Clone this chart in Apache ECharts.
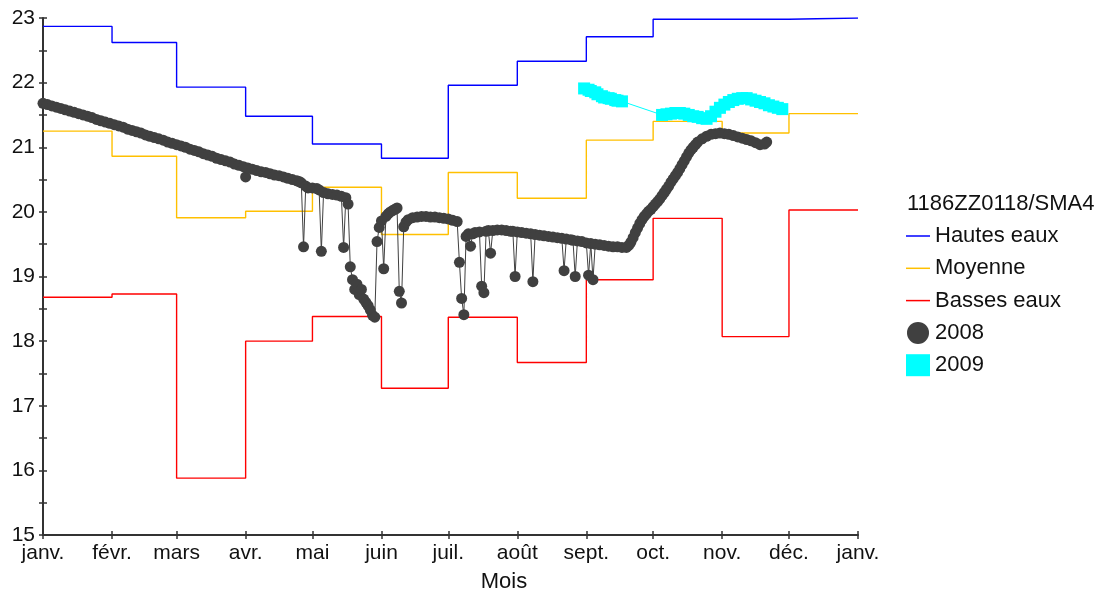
<!DOCTYPE html>
<html>
<head>
<meta charset="utf-8">
<script src="https://cdn.jsdelivr.net/npm/echarts@6/dist/echarts.min.js"></script>
<style>
html, body { margin: 0; padding: 0; background: #fff; }
#chart { width: 1106px; height: 596px; }
</style>
</head>
<body>
<div id="chart"></div>
<script>
// Day-of-year at which each month starts (2008 is a leap year), plus the closing 1 Jan.
const monthStarts = [0, 31, 60, 91, 121, 152, 182, 213, 244, 274, 305, 335, 366];
const monthLabels = ['janv.', 'févr.', 'mars', 'avr.', 'mai', 'juin', 'juil.', 'août', 'sept.', 'oct.', 'nov.', 'déc.', 'janv.'];
const yTicks = [15, 16, 17, 18, 19, 20, 21, 22, 23];

// Monthly reference levels (one value per month)
const hautesEaux = [22.87, 22.62, 21.93, 21.48, 21.05, 20.83, 21.96, 22.33, 22.71, 22.98, 22.98, 23.0];
const moyenne    = [21.25, 20.86, 19.91, 20.01, 20.38, 19.65, 20.61, 20.21, 21.11, 21.40, 21.22, 21.52];
const bassesEaux = [18.68, 18.73, 15.88, 18.00, 18.38, 17.27, 18.37, 17.67, 18.95, 19.90, 18.07, 20.03];

// 2008 measurements: day of year and level
const jours2008 = [0, 2, 4, 6, 8, 10, 12, 14, 16, 18, 20, 22, 24, 26, 28, 30, 32, 34, 36, 38, 40, 42, 44, 46, 48, 50, 52, 54, 56, 58, 60, 62, 64, 66, 68, 70, 72, 74, 76, 78, 80, 82, 84, 86, 88, 90, 91, 92, 94, 96, 98, 100, 102, 104, 106, 108, 110, 112, 114,
  115, 116, 117, 118, 119, 121, 123, 124, 125, 126, 128, 130, 132, 134, 135, 136, 137,
  138, 139, 140, 141, 142, 143, 144, 145, 146, 147, 148, 149,
  150, 151, 152, 153, 154, 155, 156, 157, 158, 159, 160, 161,
  162, 163, 164, 166, 168, 170, 172, 174, 176, 178, 180, 182, 184, 186, 187, 188, 189,
  190, 191, 192, 193, 194, 196, 197, 198, 199, 200, 201, 202, 204, 206, 208, 210, 211, 212, 213, 215, 217, 219, 220, 221, 223, 225, 227, 229, 231, 233, 234, 235, 237, 238, 239, 240, 242, 244, 245, 246, 247, 248, 250, 252, 254, 256, 258, 260, 262,
  263, 264, 265, 266, 267, 268, 269, 270, 271, 272, 273, 274, 275, 276, 277, 278, 279, 280, 281, 282, 283, 284, 285, 286, 287, 288, 289, 290, 291, 292, 293, 294,
  296, 298, 300, 302, 304, 306, 308, 310, 312, 314, 316, 318, 320, 322, 324, 325];
const niveau2008 = [21.68, 21.66, 21.64, 21.62, 21.60, 21.58, 21.56, 21.54, 21.52, 21.50, 21.48, 21.46, 21.43, 21.41, 21.39, 21.37, 21.35, 21.33, 21.31, 21.28,
  21.26, 21.24, 21.22, 21.19, 21.17, 21.15, 21.13, 21.11, 21.08, 21.06, 21.04, 21.02, 21.00, 20.97, 20.95, 20.93, 20.90, 20.88, 20.86, 20.83,
  20.81, 20.79, 20.77, 20.74, 20.72, 20.70, 20.54, 20.68, 20.66, 20.64, 20.62, 20.61, 20.59, 20.57, 20.56, 20.54, 20.52, 20.50, 20.48,
  20.47, 20.45, 19.46, 20.40, 20.37, 20.37, 20.36, 20.34, 19.39, 20.30, 20.28, 20.27, 20.26, 20.24, 19.45, 20.22, 20.12,
  19.15, 18.95, 18.80, 18.88, 18.72, 18.80, 18.65, 18.60, 18.55, 18.48, 18.40, 18.37,
  19.54, 19.76, 19.86, 19.12, 19.93, 19.97, 20.00, 20.02, 20.04, 20.06, 18.77, 18.59,
  19.77, 19.84, 19.88, 19.91, 19.92, 19.93, 19.93, 19.92, 19.92, 19.91, 19.90, 19.89, 19.87, 19.85, 19.22, 18.66, 18.41,
  19.62, 19.66, 19.47, 19.66, 19.68, 19.69, 18.85, 18.75, 19.70, 19.71, 19.36, 19.71, 19.72, 19.72, 19.71, 19.70, 19.70, 19.00, 19.69, 19.68, 19.67, 19.66, 18.92, 19.65, 19.64, 19.63, 19.62, 19.61, 19.60, 19.59, 19.09, 19.58, 19.57, 19.56, 19.00, 19.55, 19.54, 19.52, 19.02, 19.51, 18.95, 19.50, 19.49, 19.48, 19.47, 19.46, 19.46, 19.45, 19.45,
  19.48, 19.53, 19.60, 19.68, 19.75, 19.82, 19.88, 19.93, 19.97, 20.01, 20.04, 20.08, 20.12, 20.16, 20.20, 20.25, 20.30, 20.35, 20.40, 20.46,
  20.51, 20.56, 20.61, 20.67, 20.73, 20.79, 20.85, 20.91, 20.96, 21.00, 21.04, 21.08,
  21.13, 21.17, 21.20, 21.21, 21.22, 21.21, 21.20, 21.18, 21.16, 21.14, 21.12, 21.10, 21.07, 21.04, 21.05, 21.08];

// 2009 measurements: day of year and level
const jours2009 = [243, 245, 246, 248, 249, 251, 252, 254, 255, 257, 258, 260,
  278, 280, 282, 284, 286, 288, 290, 292, 294, 296, 298, 300, 302, 304, 306, 308, 310, 312, 314, 316, 318, 320, 322, 324, 326, 328, 330, 332];
const niveau2009 = [21.91, 21.89, 21.87, 21.85, 21.82, 21.79, 21.77, 21.76, 21.75, 21.73, 21.72, 21.71,
  21.50, 21.51, 21.52, 21.53, 21.53, 21.52, 21.50, 21.48, 21.47, 21.45, 21.44, 21.48, 21.55, 21.61, 21.66, 21.70, 21.73, 21.75, 21.76, 21.76, 21.74, 21.72, 21.70, 21.68, 21.65, 21.63, 21.61, 21.59];

const FONT = '"Liberation Sans", Arial, sans-serif';
const AXIS_COLOR = '#333';
const LINE_ICON = 'path://M0,0H24V1.5H0Z';

// Monthly steps: each value holds from the month start to the next month start
function stepData(vals) {
  const d = vals.map((v, i) => [monthStarts[i], v]);
  d.push([monthStarts[monthStarts.length - 1], vals[vals.length - 1]]);
  return d;
}
function pairs(xs, ys) { return xs.map((x, i) => [x, ys[i]]); }

const chart = echarts.init(document.getElementById('chart'), null, { renderer: 'canvas' });

const xBase = { type: 'value', min: 0, max: 366, gridIndex: 0, position: 'bottom', splitLine: { show: false } };
const yBase = { type: 'value', min: 15, max: 23, interval: 1, gridIndex: 0, position: 'left', splitLine: { show: false } };
const tickLine = { color: AXIS_COLOR, width: 1.5 };

chart.setOption({
  animation: false,
  backgroundColor: '#fff',
  grid: { left: 43, top: 18, width: 815, height: 517, containLabel: false },
  xAxis: [
    Object.assign({}, xBase, {
      axisLine: { show: true, lineStyle: { color: AXIS_COLOR, width: 2 } },
      axisTick: { show: true, length: 4, customValues: monthStarts, lineStyle: tickLine },
      axisLabel: {
        customValues: monthStarts,
        formatter: v => monthLabels[monthStarts.indexOf(v)],
        fontFamily: FONT, fontSize: 21, color: '#111', margin: 8
      }
    }),
    // inner half of the crossing ticks
    Object.assign({}, xBase, {
      axisLine: { show: false },
      axisTick: { show: true, inside: true, length: 4, customValues: monthStarts, lineStyle: tickLine },
      axisLabel: { show: false }
    })
  ],
  yAxis: [
    Object.assign({}, yBase, {
      axisLine: { show: true, lineStyle: { color: AXIS_COLOR, width: 2 } },
      axisTick: { show: true, length: 4, lineStyle: tickLine },
      minorTick: { show: true, splitNumber: 2, length: 4, lineStyle: tickLine },
      axisLabel: { fontFamily: FONT, fontSize: 21, color: '#111', margin: 8,
        formatter: v => (yTicks.indexOf(v) >= 0 ? String(v) : '') }
    }),
    Object.assign({}, yBase, {
      axisLine: { show: false },
      axisTick: { show: true, inside: true, length: 4, lineStyle: tickLine },
      minorTick: { show: true, splitNumber: 2, length: 4, lineStyle: tickLine },
      axisLabel: { show: false }
    })
  ],
  legend: {
    orient: 'vertical', left: 906, top: 225, padding: 0,
    itemWidth: 24, itemHeight: 22, itemGap: 10.3, selectedMode: false,
    textStyle: { fontFamily: FONT, fontSize: 22, lineHeight: 22, color: '#111' },
    data: [
      { name: 'Hautes eaux', icon: LINE_ICON },
      { name: 'Moyenne', icon: LINE_ICON },
      { name: 'Basses eaux', icon: LINE_ICON },
      { name: '2008', icon: 'circle' },
      { name: '2009', icon: 'rect' }
    ]
  },
  graphic: [
    { type: 'text', x: 907, y: 193, style: { text: '1186ZZ0118/SMA4', font: '22px ' + FONT, fill: '#111' } },
    { type: 'text', x: 504, y: 571, style: { text: 'Mois', font: '22px ' + FONT, fill: '#111', textAlign: 'center', textVerticalAlign: 'top' } }
  ],
  series: [
    { name: 'Hautes eaux', type: 'line', step: 'end', data: stepData(hautesEaux), symbol: 'none',
      lineStyle: { color: '#0000ff', width: 1.4 }, itemStyle: { color: '#0000ff' }, z: 2 },
    { name: 'Moyenne', type: 'line', step: 'end', data: stepData(moyenne), symbol: 'none',
      lineStyle: { color: '#ffc000', width: 1.4 }, itemStyle: { color: '#ffc000' }, z: 2 },
    { name: 'Basses eaux', type: 'line', step: 'end', data: stepData(bassesEaux), symbol: 'none',
      lineStyle: { color: '#ff0000', width: 1.4 }, itemStyle: { color: '#ff0000' }, z: 2 },
    { name: '2008', type: 'line', data: pairs(jours2008, niveau2008), symbol: 'circle', symbolSize: 11,
      showAllSymbol: true, lineStyle: { color: '#404040', width: 1 }, itemStyle: { color: '#404040' }, z: 3 },
    { name: '2009', type: 'line', data: pairs(jours2009, niveau2009), symbol: 'rect', symbolSize: 12,
      showAllSymbol: true, lineStyle: { color: '#00ffff', width: 1 }, itemStyle: { color: '#00ffff' }, z: 4 }
  ]
});
</script>
</body>
</html>
